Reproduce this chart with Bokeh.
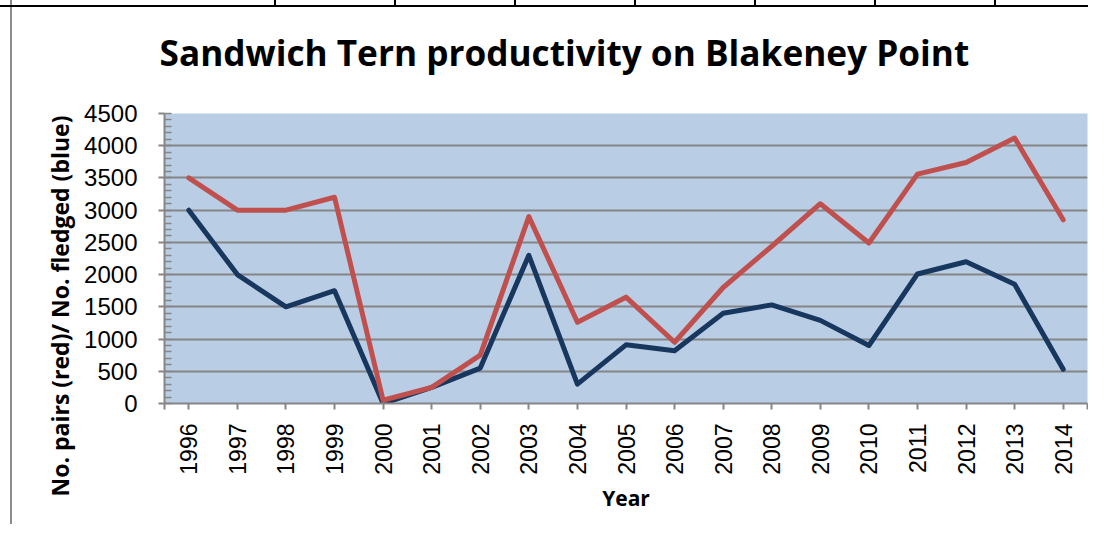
from math import pi
from bokeh.plotting import figure
from bokeh.models import (Range1d, FixedTicker, Title, ColumnDataSource)
from bokeh.embed import file_html
from bokeh.resources import INLINE

years = [1996, 1997, 1998, 1999, 2000, 2001, 2002, 2003, 2004, 2005,
         2006, 2007, 2008, 2009, 2010, 2011, 2012, 2013, 2014]
pairs_red = [3500, 3000, 3000, 3200, 50, 250, 750, 2900, 1260, 1650,
             950, 1800, 2440, 3100, 2490, 3560, 3740, 4120, 2850]
fledged_blue = [3000, 2000, 1500, 1750, 0, 250, 550, 2300, 300, 910,
                820, 1400, 1530, 1290, 900, 2010, 2200, 1850, 530]
y_ticks = [0, 500, 1000, 1500, 2000, 2500, 3000, 3500, 4000, 4500]

title_text = "Sandwich Tern productivity on Blakeney Point"
y_label = "No. pairs (red)/ No. fledged (blue)"
x_label = "Year"

GRID = "#868686"
TITLE_FONT = "Open Sans"

p = figure(frame_width=923, frame_height=290,
           min_border_left=164, min_border_right=1,
           min_border_top=113, min_border_bottom=121,
           x_range=Range1d(years[0] - 0.5, years[-1] + 0.5),
           y_range=Range1d(y_ticks[0], y_ticks[-1]),
           output_backend="svg", toolbar_location=None,
           background_fill_color="#B9CDE5", border_fill_color=None,
           outline_line_color=None)

# page decorations behind the transparent canvas border: document frame
layers = ["linear-gradient(black,black) 0px 5px / 100% 2px no-repeat",
          "linear-gradient(#8C8C8C,#8C8C8C) 10px 0px / 2px 100% no-repeat"]
for xv in [274, 394, 514, 634, 754, 874, 994]:
    layers.append(f"linear-gradient(black,black) {xv}px 0px / 2px 6px no-repeat")
layers.append("white")
p.styles = {"background": ", ".join(layers)}

src = ColumnDataSource(dict(year=years, red=pairs_red, blue=fledged_blue))
p.line("year", "blue", source=src, line_color="#17375E", line_width=5,
       line_join="round", line_cap="round")
p.line("year", "red", source=src, line_color="#C0504D", line_width=5,
       line_join="round", line_cap="round")

# x axis
p.xaxis.ticker = FixedTicker(ticks=years, minor_ticks=[years[0] - 0.5, years[-1] + 0.5])
p.xaxis.major_label_orientation = pi / 2
p.xaxis.major_label_text_font = "Liberation Sans"
p.xaxis.major_label_text_font_size = "23px"
p.xaxis.major_label_text_color = "black"
p.xaxis.major_label_standoff = 14
p.xaxis.major_tick_in = 0
p.xaxis.major_tick_out = 6
p.xaxis.minor_tick_in = 0
p.xaxis.minor_tick_out = 6
p.xaxis.axis_line_color = GRID
p.xaxis.axis_line_width = 2
p.xaxis.major_tick_line_color = GRID
p.xaxis.major_tick_line_width = 2
p.xaxis.minor_tick_line_color = GRID
p.xaxis.minor_tick_line_width = 2
p.xaxis.axis_label = x_label
p.xaxis.axis_label_text_font = TITLE_FONT
p.xaxis.axis_label_text_font_style = "bold"
p.xaxis.axis_label_text_font_size = "21px"
p.xaxis.axis_label_text_color = "black"
p.xaxis.axis_label_standoff = 6

# y axis
p.yaxis.ticker = FixedTicker(ticks=y_ticks,
                             minor_ticks=list(range(y_ticks[0], y_ticks[-1] + 1, 100)))
p.yaxis.major_label_text_font = "Liberation Sans"
p.yaxis.major_label_text_font_size = "24px"
p.yaxis.major_label_text_color = "black"
p.yaxis.major_label_standoff = 21
p.yaxis.major_tick_in = 0
p.yaxis.major_tick_out = 6
p.yaxis.minor_tick_in = 7
p.yaxis.minor_tick_out = 0
p.yaxis.axis_line_color = GRID
p.yaxis.axis_line_width = 2
p.yaxis.major_tick_line_color = GRID
p.yaxis.major_tick_line_width = 2
p.yaxis.minor_tick_line_color = GRID
p.yaxis.minor_tick_line_width = 1.5

p.xgrid.grid_line_color = None
p.ygrid.grid_line_color = GRID
p.ygrid.grid_line_width = 2

# chart title
p.title.text = title_text
p.title.text_font = TITLE_FONT
p.title.text_font_style = "bold"
p.title.text_font_size = "35.2px"
p.title.text_color = "black"
p.title.align = "left"
p.title.vertical_align = "bottom"
p.title.offset = -5
p.title.standoff = 0

# spacer between the title and the plot frame
p.add_layout(Title(text=" ", text_font_size="1px", standoff=35), "above")

# vertical axis title
p.add_layout(Title(text=y_label, text_font=TITLE_FONT, text_font_style="bold",
                   text_font_size="23px", text_color="black",
                   align="left", offset=-93, standoff=12), "left")

open("out.html", "w").write(file_html(p, INLINE))
